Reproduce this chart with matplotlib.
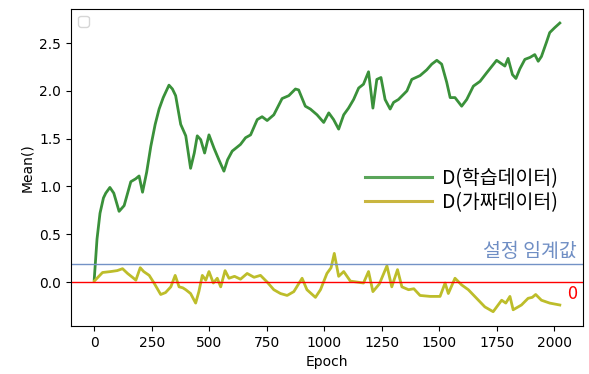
import matplotlib
matplotlib.use("Agg")
import matplotlib.pyplot as plt
from matplotlib.lines import Line2D

# Discriminator output on real (training) data
epochs_real = [0, 12, 25, 40, 50, 68, 85, 108, 130, 159, 180, 195, 210, 228, 246, 265, 282, 300,
               325, 340, 354, 376, 398, 419, 435, 448, 463, 480, 499, 521, 542, 564, 580, 600,
               636, 658, 680, 709, 730, 752, 781, 817, 846, 875, 889, 918, 940, 969, 998, 1020,
               1041, 1063, 1085, 1106, 1128, 1150, 1171, 1193, 1212, 1229, 1247, 1265, 1287,
               1302, 1323, 1360, 1381, 1417, 1446, 1468, 1490, 1511, 1533, 1548, 1569, 1598,
               1620, 1649, 1678, 1707, 1750, 1786, 1800, 1819, 1834, 1851, 1873, 1895, 1916,
               1931, 1945, 1967, 1981, 2002, 2025]
d_real = [0.03, 0.45, 0.72, 0.88, 0.93, 0.99, 0.93, 0.74, 0.80, 1.05, 1.08, 1.11, 0.94, 1.15, 1.42,
          1.65, 1.81, 1.93, 2.06, 2.02, 1.95, 1.65, 1.53, 1.19, 1.35, 1.53, 1.49, 1.35, 1.54, 1.40,
          1.28, 1.16, 1.28, 1.37, 1.44, 1.51, 1.54, 1.70, 1.73, 1.69, 1.75, 1.92, 1.95, 2.02, 2.01,
          1.84, 1.81, 1.75, 1.67, 1.77, 1.70, 1.60, 1.75, 1.82, 1.91, 2.03, 2.07, 2.20, 1.82, 2.12,
          2.14, 1.91, 1.81, 1.88, 1.91, 2.00, 2.12, 2.16, 2.22, 2.28, 2.32, 2.28, 2.09, 1.93, 1.93,
          1.84, 1.91, 2.05, 2.10, 2.19, 2.32, 2.26, 2.34, 2.17, 2.13, 2.23, 2.33, 2.35, 2.38, 2.31,
          2.36, 2.51, 2.61, 2.66, 2.71]

# Discriminator output on fake (generated) data
epochs_fake = [0, 36, 72, 100, 123, 145, 166, 181, 200, 215, 239, 260, 289, 310, 333, 352, 369,
               385, 398, 419, 441, 455, 470, 485, 499, 518, 535, 550, 569, 586, 610, 636, 665,
               695, 723, 752, 781, 810, 839, 868, 904, 925, 962, 984, 1012, 1030, 1044, 1063,
               1085, 1114, 1171, 1193, 1212, 1240, 1273, 1294, 1319, 1338, 1367, 1390, 1417,
               1461, 1504, 1526, 1540, 1569, 1598, 1627, 1663, 1699, 1735, 1772, 1790, 1808,
               1822, 1858, 1887, 1905, 1920, 1945, 1981, 2025]
d_fake = [0.01, 0.10, 0.11, 0.12, 0.14, 0.09, 0.05, 0.02, 0.15, 0.11, 0.07, -0.01, -0.13, -0.11,
          -0.05, 0.07, -0.05, -0.06, -0.08, -0.12, -0.22, -0.10, 0.07, 0.02, 0.11, -0.01, 0.04,
          -0.05, 0.12, 0.04, 0.06, 0.03, 0.09, 0.05, 0.07, 0.00, -0.08, -0.12, -0.14, -0.10,
          0.04, -0.08, -0.16, -0.08, 0.09, 0.15, 0.30, 0.06, 0.11, 0.01, -0.01, 0.11, -0.10,
          -0.02, 0.17, -0.05, 0.13, -0.05, -0.08, -0.07, -0.14, -0.15, -0.15, -0.01, -0.12,
          0.04, -0.03, -0.08, -0.17, -0.26, -0.31, -0.19, -0.22, -0.15, -0.29, -0.24, -0.17,
          -0.16, -0.13, -0.19, -0.22, -0.24]

threshold = 0.19
zero_level = 0.0
legend_labels = ["D(학습데이터)", "D(가짜데이터)"]
threshold_label = "설정 임계값"
zero_label = "0"

plt.rcParams['font.family'] = ['DejaVu Sans']
kr_family = ['Noto Sans CJK KR', 'DejaVu Sans']

fig = plt.figure(figsize=(5.89, 3.74), dpi=100)
ax = fig.add_axes([0.1205, 0.128, 0.8695, 0.849])

ax.plot(epochs_real, d_real, color="#3a913a", lw=2.0)
ax.plot(epochs_fake, d_fake, color="#bdbd2a", lw=2.0)
ax.axhline(threshold, color="#7392c6", lw=1.0)
ax.axhline(zero_level, color="red", lw=1.0)

ax.set_xlabel("Epoch", fontsize=10)
ax.set_ylabel("Mean()", fontsize=10)
ax.tick_params(labelsize=10)

empty_leg = ax.legend(loc="upper left")
ax.add_artist(empty_leg)

handles = [Line2D([], [], color="#5aa55a", lw=2.2), Line2D([], [], color="#c9b640", lw=2.2)]
ax.legend(handles, legend_labels, loc="center left", bbox_to_anchor=(0.54, 0.427),
          frameon=False, handlelength=3.45, labelspacing=0.15, handletextpad=0.5,
          prop={'family': kr_family, 'size': 14})

ax.text(0.988, threshold + 0.025, threshold_label, transform=ax.get_yaxis_transform(),
        ha="right", va="bottom", color="#6f8ec4", fontsize=14, family=kr_family)
ax.text(0.988, zero_level - 0.03, zero_label, transform=ax.get_yaxis_transform(),
        ha="right", va="top", color="red", fontsize=13, family=kr_family)

fig.savefig("out.png", dpi=100)
